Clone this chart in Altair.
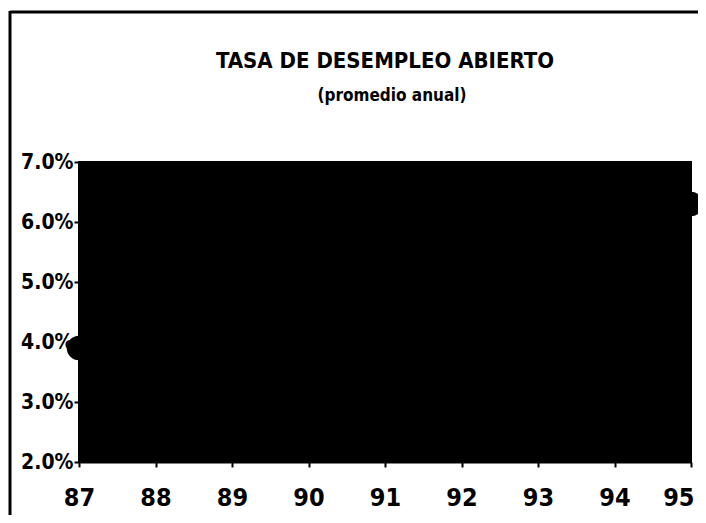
import altair as alt
import pandas as pd

years = [87, 88, 89, 90, 91, 92, 93, 94, 95]
rates = [0.039, 0.035, 0.029, 0.027, 0.026, 0.028, 0.034, 0.037, 0.063]
y_ticks = [0.02, 0.03, 0.04, 0.05, 0.06, 0.07]
title_line = "TASA  DE DESEMPLEO ABIERTO"
subtitle_line = "(promedio anual)"

FONT = "DejaVu Sans Condensed"

df = pd.DataFrame({"year": years, "rate": rates})

x = alt.X("year:Q", scale=alt.Scale(domain=[87, 95], nice=False, zero=False),
          axis=alt.Axis(values=years, format="d", title=None, grid=False,
                        labelFontSize=25, labelFont=FONT, labelFontWeight="bold",
                        labelColor="black", labelPadding=18, tickSize=5,
                        tickColor="black", tickWidth=2, domainColor="black",
                        domainWidth=2, labelFlush=False,
                        labelAlign={"expr": "datum.value == 95 ? 'right' : 'center'"},
                        labelOffset={"expr": "datum.value == 95 ? 3 : 0"}))
y = alt.Y("rate:Q", scale=alt.Scale(domain=[0.02, 0.07], nice=False, zero=False),
          axis=alt.Axis(values=y_ticks, format=".1%", title=None, grid=False,
                        labelFontSize=21, labelFont=FONT, labelFontWeight="bold",
                        labelColor="black", labelPadding=1, tickSize=5,
                        tickColor="black", tickWidth=2, domainColor="black",
                        domainWidth=2, labelFlush=False))

base = alt.Chart(df)
line = base.mark_line(color="black", strokeWidth=3, clip=False).encode(x=x, y=y)
pts = base.mark_point(filled=True, color="black", size=600, opacity=1, clip=False).encode(x=x, y=y)

title_df = pd.DataFrame({"t": [title_line], "s": [subtitle_line]})
t1 = alt.Chart(title_df).mark_text(font=FONT, fontSize=22, fontWeight="bold",
                                   color="black", baseline="alphabetic",
                                   align="center").encode(
    text="t:N", x=alt.value(306), y=alt.value(-94))
t2 = alt.Chart(title_df).mark_text(font=FONT, fontSize=17, fontWeight="bold",
                                   color="black", baseline="alphabetic",
                                   align="center").encode(
    text="s:N", x=alt.value(313), y=alt.value(-61))

frame_top = alt.Chart(title_df).mark_rule(color="black", strokeWidth=3).encode(
    x=alt.value(-69), x2=alt.value(640), y=alt.value(-150))
frame_left = alt.Chart(title_df).mark_rule(color="black", strokeWidth=3).encode(
    x=alt.value(-69), y=alt.value(-151), y2=alt.value(400))

chart = alt.layer(frame_top, frame_left, t1, t2, line, pts).properties(
    width=612, height=300,
    autosize=alt.AutoSizeParams(type="none"),
    padding={"left": 71, "top": 154, "right": 7, "bottom": 53},
    background="white",
).configure_view(fill="black", stroke="black", strokeWidth=2)

chart.save("out.html", embed_options={"renderer": "svg", "actions": False})
